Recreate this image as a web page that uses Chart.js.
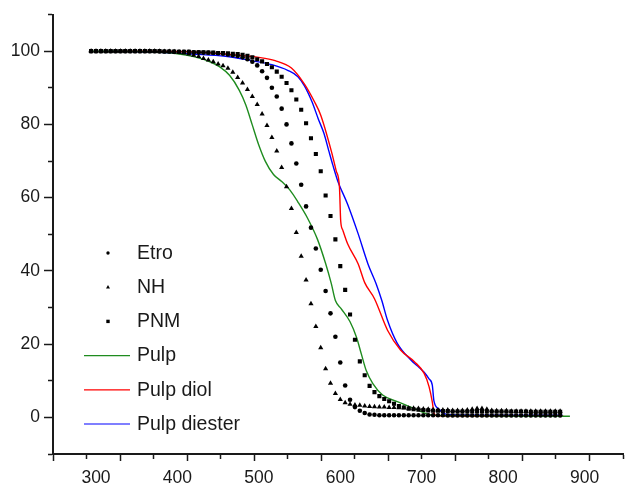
<!DOCTYPE html>
<html>
<head>
<meta charset="utf-8">
<script src="https://cdn.jsdelivr.net/npm/chart.js@4.4.1/dist/chart.umd.min.js"></script>
<style>
  html, body { margin: 0; padding: 0; background: #fff; }
  #wrap { width: 627px; height: 486px; position: relative; }
</style>
</head>
<body>
<div id="wrap"><canvas id="tga"></canvas></div>
<script>
// temperatures shared by the three measured samples
const temps = [
  294, 300, 306, 312, 318, 324, 330, 336, 342, 348,
  354, 360, 366, 372, 378, 384, 390, 396, 402, 408,
  414, 420, 426, 432, 438, 444, 450, 456, 462, 468,
  474, 480, 486, 492, 498, 504, 510, 516, 522, 528,
  534, 540, 546, 552, 558, 564, 570, 576, 582, 588,
  594, 600, 606, 612, 618, 624, 630, 636, 642, 648,
  654, 660, 666, 672, 678, 684, 690, 696, 702, 708,
  714, 720, 726, 732, 738, 744, 750, 756, 762, 768,
  774, 780, 786, 792, 798, 804, 810, 816, 822, 828,
  834, 840, 846, 852, 858, 864, 870
];
const etro = [
  100, 100, 100, 100, 100, 100, 100, 100, 100, 100,
  100, 100, 100, 100, 99.9, 99.9, 99.9, 99.8, 99.8, 99.8,
  99.8, 99.7, 99.7, 99.6, 99.6, 99.5, 99.4, 99.3, 99.1, 98.9,
  98.7, 98.3, 97.8, 97.1, 96.1, 94.5, 92.7, 90.0, 87.6, 84.3,
  80.0, 74.8, 69.3, 63.5, 57.6, 51.8, 46.1, 40.3, 34.5, 28.4,
  22.0, 15.0, 8.7, 4.8, 2.8, 1.8, 1.2, 0.8, 0.7, 0.6,
  0.6, 0.6, 0.6, 0.6, 0.6, 0.6, 0.6, 0.6, 0.6, 0.6,
  0.6, 0.6, 0.6, 0.5, 0.5, 0.5, 0.5, 0.5, 0.5, 0.5,
  0.5, 0.5, 0.5, 0.5, 0.5, 0.5, 0.5, 0.5, 0.5, 0.5,
  0.5, 0.5, 0.5, 0.5, 0.5, 0.5, 0.5
];
const nh = [
  100, 100, 100, 100, 100, 100, 100, 100, 100, 100,
  100, 100, 100, 100, 100, 99.9, 99.9, 99.8, 99.7, 99.5,
  99.2, 98.9, 98.5, 98.0, 97.6, 97.1, 96.5, 96.0, 95.3, 94.2,
  92.8, 91.3, 89.5, 87.6, 85.4, 82.8, 79.7, 76.4, 72.7, 68.2,
  63.0, 57.0, 50.5, 44.0, 37.5, 31.0, 24.8, 19.0, 13.3, 9.3,
  6.5, 4.9, 4.0, 3.6, 3.4, 3.3, 3.1, 3.0, 2.9, 2.8,
  2.8, 2.7, 2.7, 2.6, 2.6, 2.5, 2.5, 2.4, 2.3, 2.2,
  2.1, 2.0, 2.0, 2.0, 1.9, 1.9, 1.9, 2.0, 2.2, 2.4,
  2.4, 2.2, 1.9, 1.8, 1.8, 1.8, 1.7, 1.7, 1.7, 1.7,
  1.7, 1.7, 1.7, 1.7, 1.7, 1.7, 1.7
];
const pnm = [
  100, 100, 100, 100, 100, 100, 100, 100, 100, 100,
  100, 100, 100, 100, 100, 99.9, 99.9, 99.9, 99.8, 99.8,
  99.8, 99.7, 99.7, 99.7, 99.6, 99.6, 99.5, 99.5, 99.4, 99.3,
  99.2, 99.0, 98.7, 98.3, 97.8, 97.2, 96.5, 95.6, 94.4, 93.0,
  91.3, 89.3, 86.8, 84.0, 80.3, 76.2, 71.9, 67.2, 60.6, 55.0,
  48.6, 41.3, 34.8, 28.1, 21.2, 15.3, 11.5, 8.6, 6.9, 5.8,
  5.0, 4.4, 3.7, 3.1, 2.7, 2.4, 2.2, 2.1, 2.0, 1.9,
  1.8, 1.8, 1.7, 1.7, 1.6, 1.6, 1.6, 1.6, 1.6, 1.6,
  1.6, 1.6, 1.6, 1.6, 1.6, 1.6, 1.6, 1.6, 1.6, 1.6,
  1.5, 1.5, 1.5, 1.5, 1.5, 1.5, 1.5
];

// the three pulp curves, each with its own temperature readings
const pulpT = [292, 330, 370, 400, 420, 440, 452, 464, 476, 484, 492, 500, 508, 518, 528, 538, 548, 560, 572, 582, 589, 594, 601, 612, 620, 626, 632, 640, 652, 670, 690, 707, 720, 760, 820, 882];
const pulpW = [100, 100, 99.8, 99.3, 98.5, 97.1, 95.7, 93.4, 89.3, 85.3, 79.8, 74.3, 69.9, 66.3, 64.4, 62.1, 58.8, 54.3, 48.6, 42.0, 36.5, 31.9, 29.7, 26.1, 21.8, 17.2, 12.7, 9.2, 6.1, 4.3, 2.5, 0.9, 0.5, 0.4, 0.3, 0.3];
const diolT = [329, 380, 420, 459, 500, 520, 540, 556, 568, 576, 589, 595, 599, 600.5, 603, 609, 622, 630, 642, 658, 674, 691, 703, 709, 713, 715, 719, 760, 874];
const diolW = [100, 99.9, 99.8, 99.2, 98.3, 97.4, 95.4, 91.0, 86.3, 82.5, 72.7, 67.3, 62.8, 53.7, 51.2, 47.4, 41.9, 36.8, 32.4, 23.8, 18.4, 15.2, 12.0, 8.4, 4.2, 1.2, 0.4, 0.3, 0.3];
const diesterT = [329, 378, 418, 459, 491, 516, 536, 548, 556, 565, 573, 580, 586, 591, 597, 609, 622, 634, 644, 651, 658, 670, 687, 695, 703, 709, 713, 715, 721, 727, 735, 780, 873];
const diesterW = [100, 99.7, 99.2, 98.6, 97.4, 96.3, 94.7, 93.0, 90.5, 86.3, 81.5, 77.5, 72.7, 68.8, 64.5, 58.2, 50.1, 41.9, 36.5, 31.9, 26.5, 20.2, 15.6, 14.0, 12.3, 10.5, 8.8, 4.5, 2.3, 1.1, 0.7, 0.6, 0.6];

const xLabelTicks = [300, 400, 500, 600, 700, 800, 900];
const yLabelTicks = [0, 20, 40, 60, 80, 100];

const FONT = "'Liberation Sans', Arial, sans-serif";
const INK = "#1a1a1a";

function pairs(xs, ys) {
  return xs.map((x, i) => ({ x: x, y: ys[i] }));
}

function markerSet(label, ys, style, radius) {
  return {
    label: label,
    data: pairs(temps, ys),
    showLine: false,
    pointStyle: style,
    pointRadius: radius,
    pointBackgroundColor: "#000",
    pointBorderWidth: 0,
    xAxisID: "x",
    yAxisID: "y"
  };
}

function curveSet(label, xs, ys, color) {
  return {
    label: label,
    data: pairs(xs, ys),
    showLine: true,
    borderColor: color,
    borderWidth: 1.4,
    pointRadius: 0,
    cubicInterpolationMode: "monotone",
    xAxisID: "x",
    yAxisID: "y"
  };
}

// legend drawn inside the plot, lower left
const insideLegend = {
  id: "insideLegend",
  afterDraw(chart, args, opts) {
    const ctx = chart.ctx;
    ctx.save();
    ctx.font = opts.size + "px " + FONT;
    ctx.textBaseline = "middle";
    chart.data.datasets.forEach((ds, i) => {
      const y = opts.top + i * opts.step;
      ctx.fillStyle = "#000";
      if (ds.showLine) {
        ctx.strokeStyle = ds.borderColor;
        ctx.lineWidth = 1.2;
        ctx.beginPath();
        ctx.moveTo(opts.lineFrom, y);
        ctx.lineTo(opts.lineTo, y);
        ctx.stroke();
      } else {
        const r = opts.marker;
        const mx = opts.markerX;
        ctx.beginPath();
        if (ds.pointStyle === "circle") {
          ctx.arc(mx, y, r * 0.85, 0, Math.PI * 2);
        } else if (ds.pointStyle === "triangle") {
          ctx.moveTo(mx, y - r * 1.1);
          ctx.lineTo(mx + r, y + r * 0.7);
          ctx.lineTo(mx - r, y + r * 0.7);
          ctx.closePath();
        } else {
          ctx.rect(mx - r * 0.85, y - r * 0.85, r * 1.7, r * 1.7);
        }
        ctx.fill();
      }
      ctx.fillStyle = INK;
      ctx.fillText(ds.label, opts.textX, y + 0.5);
    });
    ctx.restore();
  }
};

new Chart(document.getElementById("tga"), {
  type: "scatter",
  data: {
    datasets: [
      markerSet("Etro", etro, "circle", 2.3),
      markerSet("NH", nh, "triangle", 3),
      markerSet("PNM", pnm, "rect", 2.9),
      curveSet("Pulp", pulpT, pulpW, "#1f8c1f"),
      curveSet("Pulp diol", diolT, diolW, "#ff0000"),
      curveSet("Pulp diester", diesterT, diesterW, "#0000ff")
    ]
  },
  plugins: [insideLegend],
  options: {
    responsive: true,
    maintainAspectRatio: false,
    devicePixelRatio: 1,
    animation: false,
    layout: { padding: { top: 13, right: 0, bottom: 0, left: 0 } },
    plugins: {
      legend: { display: false },
      tooltip: { enabled: false },
      insideLegend: {
        top: 253, step: 34.2, markerX: 108, marker: 2,
        lineFrom: 84, lineTo: 130, textX: 137, size: 19.5
      }
    },
    scales: {
      x: {
        type: "linear",
        position: "bottom",
        weight: 1,
        min: 247.2,
        max: 947.2,
        grid: { display: false, drawTicks: false },
        border: { display: false },
        afterBuildTicks: (scale) => {
          scale.ticks = xLabelTicks.map((v) => ({ value: v }));
        },
        afterFit: (scale) => { scale.height = 25; },
        ticks: {
          padding: 8,
          color: INK,
          maxRotation: 0,
          autoSkip: false,
          font: { family: FONT, size: 17.5, lineHeight: 1 }
        }
      },
      // tick marks along the bottom axis (they do not line up with the labels)
      xMarks: {
        type: "linear",
        axis: "x",
        position: "bottom",
        weight: 0,
        min: 0,
        max: 17,
        afterFit: (scale) => { scale.height = 7; },
        grid: {
          drawOnChartArea: false,
          tickLength: 7,
          tickWidth: 1.5,
          tickColor: INK,
          tickBorderDash: (c) => (c.tick && c.tick.value % 2 === 0 ? [] : [4, 100])
        },
        border: { color: INK, width: 2 },
        ticks: { display: false, stepSize: 1 }
      },
      y: {
        type: "linear",
        position: "left",
        min: -10,
        max: 110,
        afterFit: (scale) => { scale.width = 53; },
        grid: {
          drawOnChartArea: false,
          tickLength: 9,
          tickWidth: 1.5,
          tickColor: INK,
          tickBorderDash: (c) => (c.tick && yLabelTicks.includes(c.tick.value) ? [] : [0, 4, 5, 100])
        },
        border: { color: INK, width: 2 },
        ticks: {
          stepSize: 10,
          padding: 4,
          color: INK,
          font: { family: FONT, size: 17.5 },
          callback: (v) => (yLabelTicks.includes(v) ? String(v) : "")
        }
      }
    }
  }
});
</script>
</body>
</html>
